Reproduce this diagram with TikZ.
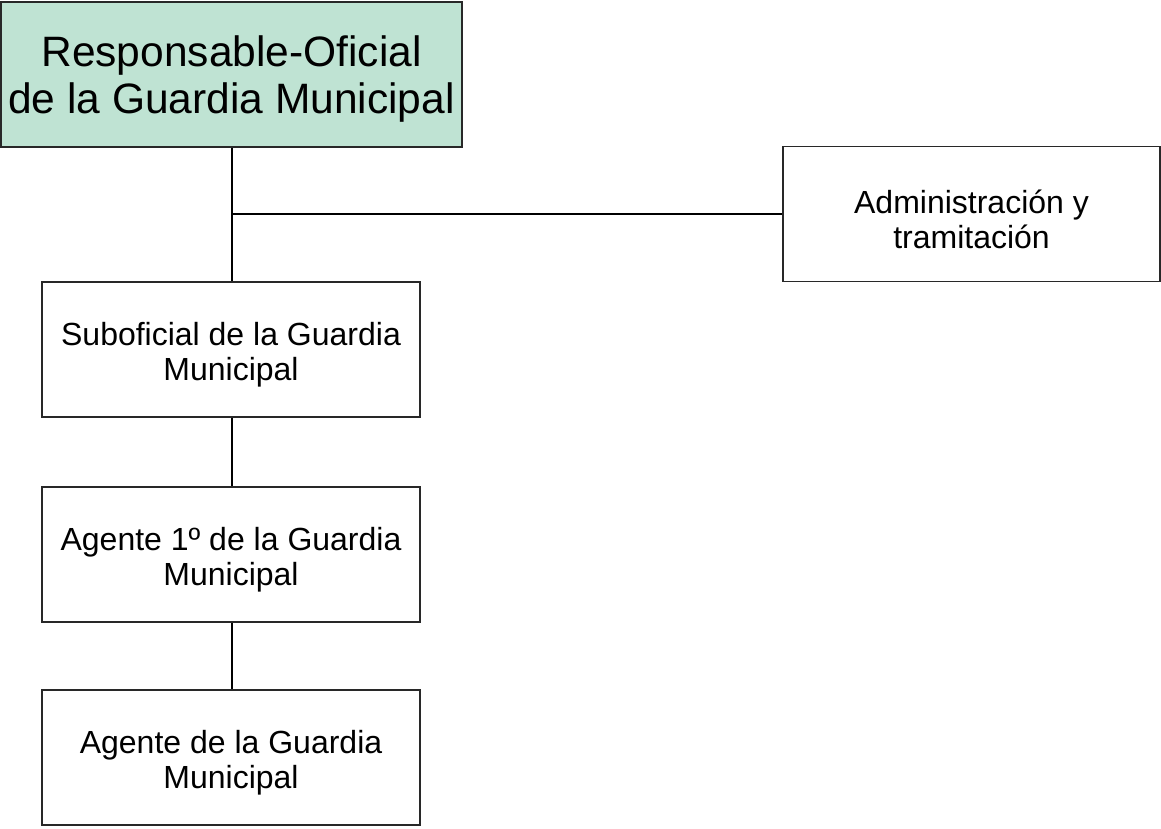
\documentclass[tikz,border=0pt]{standalone}
\usepackage{fontspec}
\setmainfont{Liberation Sans}
\definecolor{topgreen}{RGB}{191,227,211}
\definecolor{boxline}{RGB}{40,40,40}
\begin{document}
\begin{tikzpicture}[x=1pt,y=-1pt,
  orgbox/.style={draw=boxline,line width=1.2pt,fill=white,inner sep=0pt},
  txt/.style={align=center,inner sep=0pt,font=\fontsize{32}{35}\selectfont},
  bigtxt/.style={align=center,inner sep=0pt,font=\fontsize{42.5}{47}\selectfont},
  conn/.style={draw=black,line width=1.2pt}]
\useasboundingbox (0,0) rectangle (1161,828);
\node[orgbox,fill=topgreen,minimum width=461pt,minimum height=145pt] (top) at (231.5,74.5) {};
\node[bigtxt] (toptxt) at ([yshift=-5pt]top.center) {Responsable-Oficial\\de la Guardia Municipal};
\node[orgbox,minimum width=377pt,minimum height=135pt] (adm) at (971.5,214) {};
\node[txt] (admtxt) at ([yshift=-5pt]adm.center) {Administración y\\tramitación};
\node[orgbox,minimum width=378pt,minimum height=135pt] (sub) at (231,349.5) {};
\node[txt] (subtxt) at ([yshift=-5pt]sub.center) {Suboficial de la Guardia\\Municipal};
\node[orgbox,minimum width=378pt,minimum height=135pt] (ag1) at (231,554.5) {};
\node[txt] (ag1txt) at ([yshift=-5pt]ag1.center) {Agente 1º de la Guardia\\Municipal};
\node[orgbox,minimum width=378pt,minimum height=135pt] (ag) at (231,757.5) {};
\node[txt] (agtxt) at ([yshift=-5pt]ag.center) {Agente de la Guardia\\Municipal};
\coordinate (j) at (232,214);
\draw[conn] (top.south -| j) -- (sub.north -| j);
\draw[conn] (j) -- (adm.west);
\draw[conn] (sub.south -| j) -- (ag1.north -| j);
\draw[conn] (ag1.south -| j) -- (ag.north -| j);
\end{tikzpicture}
\end{document}
